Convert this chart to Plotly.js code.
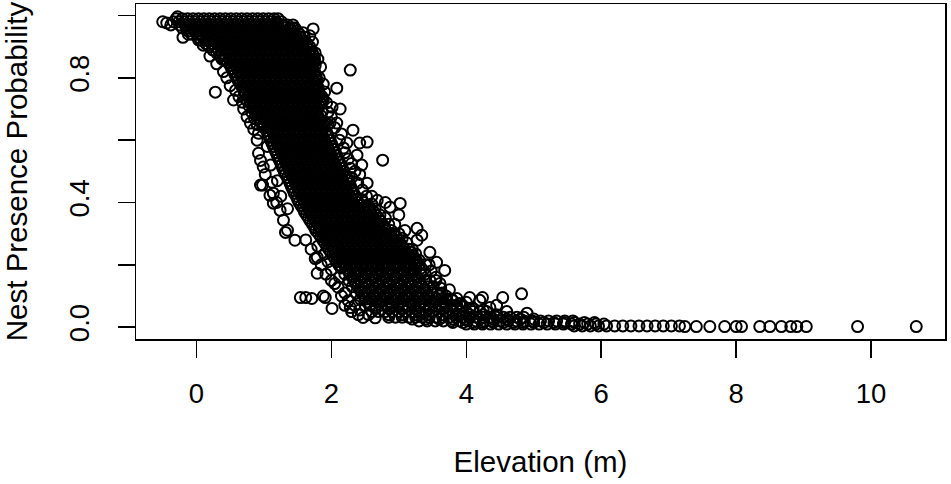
<!DOCTYPE html>
<html>
<head>
<meta charset="utf-8">
<script src="https://cdn.plot.ly/plotly-3.0.1.min.js"></script>
<style>
  html, body { margin: 0; padding: 0; background: #fff; }
  #chart { width: 951px; height: 484px; }
</style>
</head>
<body>
<div id="chart"></div>
<script>
// Nest presence probability vs elevation.
// The dense cloud is kept as rows: one probability per row, the elevations on that row.
const rowProb = [
  0.990, 0.970, 0.950, 0.930, 0.910, 0.890, 0.870, 0.850, 0.830, 0.810,
  0.790, 0.770, 0.750, 0.730, 0.710, 0.690, 0.670, 0.650, 0.630, 0.610,
  0.590, 0.570, 0.550, 0.530, 0.510, 0.490, 0.470, 0.450, 0.430, 0.410,
  0.390, 0.370, 0.350, 0.330, 0.310, 0.290, 0.270, 0.250, 0.230, 0.210,
  0.190, 0.170, 0.150, 0.130, 0.110, 0.090, 0.070, 0.050, 0.032, 0.020,
  0.010, 0.004
];

const rowElev = [
  [-0.30,-0.21,-0.13,-0.05,0.03,0.11,0.19,0.27,0.35,0.43,0.51,0.59,0.67,0.75,0.83,0.91,0.99,1.07,1.15,1.21],
  [-0.38,-0.25,-0.17,-0.09,-0.01,0.07,0.15,0.23,0.31,0.39,0.47,0.55,0.63,0.71,0.79,0.87,0.95,1.03,1.11,1.19,1.27,1.35,1.43],
  [-0.12,-0.03,0.05,0.13,0.21,0.29,0.37,0.45,0.53,0.61,0.69,0.77,0.85,0.93,1.01,1.09,1.17,1.25,1.33,1.41,1.49],
  [-0.20,0.03,0.10,0.18,0.26,0.34,0.42,0.50,0.58,0.66,0.74,0.82,0.90,0.98,1.06,1.14,1.22,1.30,1.38,1.46,1.54,1.60],
  [0.14,0.22,0.30,0.38,0.46,0.54,0.62,0.70,0.78,0.86,0.94,1.02,1.10,1.18,1.26,1.34,1.42,1.50,1.58,1.64],
  [0.24,0.32,0.40,0.48,0.56,0.64,0.72,0.80,0.88,0.96,1.04,1.12,1.20,1.28,1.36,1.44,1.52,1.60,1.68],
  [0.35,0.42,0.50,0.58,0.66,0.74,0.82,0.90,0.98,1.06,1.14,1.22,1.30,1.38,1.46,1.54,1.62,1.70,1.74],
  [0.46,0.54,0.62,0.70,0.78,0.86,0.94,1.02,1.10,1.18,1.26,1.34,1.42,1.50,1.58,1.66,1.75],
  [0.52,0.60,0.68,0.76,0.84,0.92,1.00,1.08,1.16,1.24,1.32,1.40,1.48,1.56,1.64,1.72],
  [0.57,0.65,0.73,0.81,0.89,0.97,1.05,1.13,1.21,1.29,1.37,1.45,1.53,1.61,1.69,1.77],
  [0.62,0.70,0.78,0.86,0.94,1.02,1.10,1.18,1.26,1.34,1.42,1.50,1.58,1.66,1.74,1.79],
  [0.68,0.76,0.84,0.92,1.00,1.08,1.16,1.24,1.32,1.40,1.48,1.56,1.64,1.72,1.80],
  [0.72,0.80,0.88,0.96,1.04,1.12,1.20,1.28,1.36,1.44,1.52,1.60,1.68,1.76,1.82],
  [0.74,0.83,0.91,0.99,1.07,1.15,1.23,1.31,1.39,1.47,1.55,1.63,1.71,1.79,1.86],
  [0.78,0.86,0.94,1.02,1.10,1.18,1.26,1.34,1.42,1.50,1.58,1.66,1.74,1.82],
  [0.82,0.90,0.98,1.06,1.14,1.22,1.30,1.38,1.46,1.54,1.62,1.70,1.78,1.86],
  [0.86,0.94,1.02,1.10,1.18,1.26,1.34,1.42,1.50,1.58,1.66,1.74,1.82],
  [0.90,1.00,1.08,1.16,1.24,1.32,1.40,1.48,1.56,1.64,1.72,1.80,1.88,1.95],
  [1.04,1.12,1.20,1.28,1.36,1.44,1.52,1.60,1.68,1.76,1.84,1.92],
  [1.08,1.16,1.24,1.32,1.40,1.48,1.56,1.64,1.72,1.80,1.88,1.96],
  [1.12,1.20,1.28,1.36,1.44,1.52,1.60,1.68,1.76,1.84,1.92,2.00],
  [1.16,1.24,1.32,1.40,1.48,1.56,1.64,1.72,1.80,1.88,1.96,2.04],
  [1.20,1.28,1.36,1.44,1.52,1.60,1.68,1.76,1.84,1.92,2.00,2.08],
  [1.24,1.32,1.40,1.48,1.56,1.64,1.72,1.80,1.88,1.96,2.04,2.12],
  [1.28,1.36,1.44,1.52,1.60,1.68,1.76,1.84,1.92,2.00,2.08,2.16],
  [1.32,1.40,1.48,1.56,1.64,1.72,1.80,1.88,1.96,2.04,2.12,2.20],
  [1.37,1.45,1.53,1.61,1.69,1.77,1.85,1.93,2.01,2.09,2.17,2.25],
  [1.41,1.49,1.57,1.65,1.73,1.81,1.89,1.97,2.05,2.13,2.21,2.29],
  [1.45,1.53,1.61,1.69,1.77,1.85,1.93,2.01,2.09,2.17,2.25,2.33],
  [1.50,1.58,1.66,1.74,1.82,1.90,1.98,2.06,2.14,2.22,2.30,2.38,2.45],
  [1.55,1.63,1.71,1.79,1.87,1.95,2.03,2.11,2.19,2.27,2.35,2.43,2.51],
  [1.60,1.68,1.76,1.84,1.92,2.00,2.08,2.16,2.24,2.32,2.40,2.48,2.56,2.63],
  [1.66,1.74,1.82,1.90,1.98,2.06,2.14,2.22,2.30,2.38,2.46,2.54,2.62,2.70],
  [1.72,1.80,1.88,1.96,2.04,2.12,2.20,2.28,2.36,2.44,2.52,2.60,2.68,2.76],
  [1.77,1.85,1.93,2.01,2.09,2.17,2.25,2.33,2.41,2.49,2.57,2.65,2.73,2.81,2.89],
  [1.84,1.92,2.00,2.08,2.16,2.24,2.32,2.40,2.48,2.56,2.64,2.72,2.80,2.88,2.96],
  [1.90,1.98,2.06,2.14,2.22,2.30,2.38,2.46,2.54,2.62,2.70,2.78,2.86,2.94,3.02],
  [1.96,2.04,2.12,2.20,2.28,2.36,2.44,2.52,2.60,2.68,2.76,2.84,2.92,3.00,3.08,3.15],
  [2.02,2.10,2.18,2.26,2.34,2.42,2.50,2.58,2.66,2.74,2.82,2.90,2.98,3.06,3.14,3.21],
  [2.08,2.16,2.24,2.32,2.40,2.48,2.56,2.64,2.72,2.80,2.88,2.96,3.04,3.12,3.20,3.27],
  [2.14,2.22,2.30,2.38,2.46,2.54,2.62,2.70,2.78,2.86,2.94,3.02,3.10,3.18,3.26,3.33],
  [2.20,2.28,2.36,2.44,2.52,2.60,2.68,2.76,2.84,2.92,3.00,3.08,3.16,3.24,3.32,3.39],
  [2.26,2.34,2.42,2.50,2.58,2.66,2.74,2.82,2.90,2.98,3.06,3.14,3.22,3.30,3.38,3.46],
  [2.31,2.39,2.47,2.55,2.63,2.71,2.79,2.87,2.95,3.03,3.11,3.19,3.27,3.35,3.43,3.51],
  [2.37,2.45,2.53,2.61,2.69,2.77,2.85,2.93,3.01,3.09,3.17,3.25,3.33,3.41,3.49,3.57,3.64],
  [2.43,2.51,2.59,2.67,2.75,2.83,2.91,2.99,3.07,3.15,3.23,3.31,3.39,3.47,3.55,3.63,3.71,3.78],
  [2.50,2.58,2.66,2.74,2.82,2.90,2.98,3.06,3.14,3.22,3.30,3.38,3.46,3.54,3.62,3.70,3.78,3.86,3.94],
  [2.60,2.70,2.80,2.90,3.00,3.10,3.20,3.30,3.40,3.50,3.60,3.70,3.80,3.90,4.00,4.10,4.20,4.30],
  [2.85,2.95,3.05,3.15,3.25,3.35,3.45,3.55,3.65,3.75,3.85,3.95,4.05,4.15,4.25,4.35,4.45,4.55,4.65,4.75,4.85],
  [3.30,3.42,3.54,3.66,3.78,3.90,4.02,4.14,4.26,4.38,4.50,4.62,4.74,4.86,4.98,5.10,5.22,5.34,5.46,5.58],
  [4.00,4.12,4.24,4.36,4.48,4.60,4.72,4.84,4.96,5.08,5.20,5.32,5.44,5.56,5.68,5.80,5.92,6.04],
  [5.60,5.72,5.84,5.96,6.08,6.20,6.32,6.44,6.56,6.68,6.80,6.92,7.04,7.16]
];

// rows lying between the ones above, where the cloud is packed tighter
const midProb = [
  0.980, 0.960, 0.940, 0.920, 0.900, 0.880, 0.860, 0.840, 0.820, 0.800,
  0.780, 0.760, 0.740, 0.720, 0.700, 0.680, 0.660, 0.640, 0.620, 0.600,
  0.580, 0.560, 0.540, 0.520, 0.500, 0.480, 0.460, 0.440, 0.420, 0.400,
  0.380, 0.360, 0.340, 0.320, 0.300, 0.280, 0.260, 0.240, 0.220, 0.200,
  0.180, 0.160, 0.140, 0.120, 0.100, 0.080, 0.060, 0.040, 0.026, 0.015
];

const midElev = [
  [-0.34,-0.26,-0.18,-0.10,-0.02,0.06,0.14,0.22,0.30,0.38,0.46,0.54,0.62,0.70,0.78,0.86,0.94,1.02,1.10,1.18,1.26],
  [-0.21,-0.13,-0.05,0.03,0.11,0.19,0.27,0.35,0.43,0.51,0.59,0.67,0.75,0.83,0.91,0.99,1.07,1.15,1.23,1.31,1.39,1.46],
  [-0.07,0.01,0.09,0.17,0.25,0.33,0.41,0.49,0.57,0.65,0.73,0.81,0.89,0.97,1.05,1.13,1.21,1.29,1.37,1.45,1.53],
  [0.07,0.15,0.23,0.31,0.39,0.47,0.55,0.63,0.71,0.79,0.87,0.95,1.03,1.11,1.19,1.27,1.35,1.43,1.51,1.59],
  [0.19,0.27,0.35,0.43,0.51,0.59,0.67,0.75,0.83,0.91,0.99,1.07,1.15,1.23,1.31,1.39,1.47,1.55,1.63,1.68],
  [0.30,0.38,0.46,0.54,0.62,0.70,0.78,0.86,0.94,1.02,1.10,1.18,1.26,1.34,1.42,1.50,1.58,1.66,1.72],
  [0.41,0.49,0.57,0.65,0.73,0.81,0.89,0.97,1.05,1.13,1.21,1.29,1.37,1.45,1.53,1.61,1.69,1.75],
  [0.50,0.58,0.66,0.74,0.82,0.90,0.98,1.06,1.14,1.22,1.30,1.38,1.46,1.54,1.62,1.70,1.76],
  [0.55,0.63,0.71,0.79,0.87,0.95,1.03,1.11,1.19,1.27,1.35,1.43,1.51,1.59,1.67,1.75],
  [0.60,0.68,0.76,0.84,0.92,1.00,1.08,1.16,1.24,1.32,1.40,1.48,1.56,1.64,1.72,1.78],
  [0.65,0.73,0.81,0.89,0.97,1.05,1.13,1.21,1.29,1.37,1.45,1.53,1.61,1.69,1.77],
  [0.70,0.78,0.86,0.94,1.02,1.10,1.18,1.26,1.34,1.42,1.50,1.58,1.66,1.74,1.81],
  [0.76,0.84,0.92,1.00,1.08,1.16,1.24,1.32,1.40,1.48,1.56,1.64,1.72,1.80],
  [0.80,0.88,0.96,1.04,1.12,1.20,1.28,1.36,1.44,1.52,1.60,1.68,1.76,1.84],
  [0.84,0.92,1.00,1.08,1.16,1.24,1.32,1.40,1.48,1.56,1.64,1.72,1.80],
  [0.88,0.96,1.04,1.12,1.20,1.28,1.36,1.44,1.52,1.60,1.68,1.76,1.84],
  [0.94,1.04,1.12,1.20,1.28,1.36,1.44,1.52,1.60,1.68,1.76,1.84,1.90],
  [1.00,1.08,1.16,1.24,1.32,1.40,1.48,1.56,1.64,1.72,1.80,1.88],
  [1.06,1.14,1.22,1.30,1.38,1.46,1.54,1.62,1.70,1.78,1.86,1.94],
  [1.10,1.18,1.26,1.34,1.42,1.50,1.58,1.66,1.74,1.82,1.90,1.98],
  [1.14,1.22,1.30,1.38,1.46,1.54,1.62,1.70,1.78,1.86,1.94,2.02],
  [1.18,1.26,1.34,1.42,1.50,1.58,1.66,1.74,1.82,1.90,1.98,2.06],
  [1.22,1.30,1.38,1.46,1.54,1.62,1.70,1.78,1.86,1.94,2.02,2.10],
  [1.26,1.34,1.42,1.50,1.58,1.66,1.74,1.82,1.90,1.98,2.06,2.14],
  [1.30,1.38,1.46,1.54,1.62,1.70,1.78,1.86,1.94,2.02,2.10,2.18],
  [1.35,1.43,1.51,1.59,1.67,1.75,1.83,1.91,1.99,2.07,2.15,2.23],
  [1.39,1.47,1.55,1.63,1.71,1.79,1.87,1.95,2.03,2.11,2.19,2.27],
  [1.43,1.51,1.59,1.67,1.75,1.83,1.91,1.99,2.07,2.15,2.23,2.31],
  [1.48,1.56,1.64,1.72,1.80,1.88,1.96,2.04,2.12,2.20,2.28,2.36],
  [1.52,1.60,1.68,1.76,1.84,1.92,2.00,2.08,2.16,2.24,2.32,2.40,2.48],
  [1.58,1.66,1.74,1.82,1.90,1.98,2.06,2.14,2.22,2.30,2.38,2.46,2.54],
  [1.63,1.71,1.79,1.87,1.95,2.03,2.11,2.19,2.27,2.35,2.43,2.51,2.59,2.66],
  [1.69,1.77,1.85,1.93,2.01,2.09,2.17,2.25,2.33,2.41,2.49,2.57,2.65,2.73],
  [1.75,1.83,1.91,1.99,2.07,2.15,2.23,2.31,2.39,2.47,2.55,2.63,2.71,2.79],
  [1.81,1.89,1.97,2.05,2.13,2.21,2.29,2.37,2.45,2.53,2.61,2.69,2.77,2.85,2.93],
  [1.87,1.95,2.03,2.11,2.19,2.27,2.35,2.43,2.51,2.59,2.67,2.75,2.83,2.91,2.99],
  [1.93,2.01,2.09,2.17,2.25,2.33,2.41,2.49,2.57,2.65,2.73,2.81,2.89,2.97,3.05],
  [1.99,2.07,2.15,2.23,2.31,2.39,2.47,2.55,2.63,2.71,2.79,2.87,2.95,3.03,3.11,3.18],
  [2.05,2.13,2.21,2.29,2.37,2.45,2.53,2.61,2.69,2.77,2.85,2.93,3.01,3.09,3.17,3.24],
  [2.11,2.19,2.27,2.35,2.43,2.51,2.59,2.67,2.75,2.83,2.91,2.99,3.07,3.15,3.23,3.30],
  [2.25,2.41,2.57,2.73,2.89,3.05,3.21],
  [2.31,2.47,2.63,2.79,2.95,3.11,3.27],
  [2.36,2.52,2.68,2.84,3.00,3.16,3.32],
  [2.42,2.58,2.74,2.90,3.06,3.22,3.38],
  [2.48,2.64,2.80,2.96,3.12,3.28,3.44,3.60],
  [2.55,2.71,2.87,3.03,3.19,3.35,3.51,3.67],
  [2.65,2.85,3.05,3.25,3.45,3.65,3.85,4.05],
  [2.85,3.05,3.25,3.45,3.65,3.85,4.05,4.25,4.45],
  [3.20,3.40,3.60,3.80,4.00,4.20,4.40,4.60,4.80,5.00],
  [3.80,3.95,4.10,4.25,4.40,4.55,4.70,4.85,5.00,5.15,5.30,5.45,5.60,5.75,5.90]
];

// scattered points on the edges of the cloud
const strayElev = [
  -0.50,-0.44,-0.28,-0.12,0.03,0.28,0.55,0.68,0.62,1.20,1.43,1.73,2.28,2.08,1.88,2.01,1.95,2.13,1.98,2.05,
  2.32,2.53,2.42,2.23,2.76,2.38,2.45,2.28,2.39,2.53,2.68,3.02,2.87,2.57,3.27,2.72,2.94,3.09,2.15,2.20,2.30,2.60,2.80,3.00,
  0.92,0.90,0.92,0.95,0.99,1.02,0.98,0.95,1.12,1.09,1.14,1.14,1.19,1.24,1.29,1.35,1.32,1.46,1.05,1.10,1.20,1.25,1.35,
  1.54,1.71,1.91,2.01,1.79,1.79,1.76,2.10,2.28,2.47,1.85,2.00,2.15,2.30,2.40,
  3.27,3.34,3.46,3.56,3.68,3.36,3.61,3.86,4.00,4.24,4.54,4.82,4.35,4.20,4.05,3.90,3.75,3.55,3.45,4.45,4.60,4.90,
  7.24,7.41,7.61,7.83,8.00,8.08,8.35,8.50,8.67,8.81,8.90,9.04,9.80,10.67
];
const strayProb = [
  0.980,0.976,0.996,0.940,0.922,0.754,0.729,0.722,0.793,0.976,0.960,0.957,0.825,0.767,0.729,0.706,0.690,0.700,0.655,0.640,
  0.632,0.594,0.591,0.591,0.536,0.552,0.520,0.510,0.462,0.462,0.407,0.397,0.385,0.375,0.317,0.360,0.330,0.310,0.620,0.560,0.480,0.420,0.400,0.360,
  0.622,0.600,0.558,0.535,0.514,0.490,0.456,0.456,0.465,0.423,0.430,0.398,0.400,0.375,0.343,0.311,0.304,0.279,0.580,0.520,0.470,0.420,0.380,
  0.095,0.092,0.095,0.060,0.173,0.224,0.220,0.128,0.063,0.031,0.200,0.150,0.100,0.050,0.040,
  0.279,0.295,0.240,0.208,0.182,0.182,0.140,0.092,0.080,0.095,0.095,0.107,0.063,0.086,0.095,0.076,0.120,0.160,0.200,0.070,0.050,0.045,
  0.002,0.002,0.002,0.002,0.002,0.002,0.002,0.002,0.002,0.002,0.002,0.002,0.002,0.002
];

// more loose circles that roughen the borders of the packed cloud
const edgeElev = [
  1.58,1.68,1.76,1.72,1.80,1.84,1.82,1.88,1.90,1.86,1.93,
  0.20,0.30,0.38,0.40,0.45,0.50,0.58,0.63,0.70,0.75,0.80,0.85,0.10,-0.02,
  2.00,2.08,2.12,2.18,2.25,2.30,2.35,2.42,2.46,2.52,2.60,2.65,2.80,2.85,3.00,3.05,3.12,3.20,3.25,3.30,3.40,3.48,3.55,3.62,3.70,3.80,3.95,4.10,4.25,
  1.62,1.70,1.80,1.90,1.95,1.92,2.00,2.05,2.12,2.20,2.25,2.35,2.20,2.42,2.55,2.65,1.62,1.88
];
const edgeProb = [
  0.945,0.935,0.880,0.915,0.860,0.835,0.800,0.780,0.755,0.740,0.720,
  0.870,0.845,0.860,0.820,0.800,0.775,0.760,0.740,0.700,0.675,0.655,0.635,0.905,0.950,
  0.675,0.655,0.600,0.575,0.540,0.525,0.500,0.490,0.440,0.420,0.395,0.380,0.350,0.330,0.300,0.285,0.270,0.250,0.235,0.215,0.200,0.180,0.150,0.125,0.100,0.085,0.065,0.060,0.055,
  0.280,0.250,0.260,0.235,0.210,0.170,0.185,0.140,0.160,0.110,0.085,0.070,0.070,0.055,0.040,0.030,0.095,0.100
];

const xTicks = [0, 2, 4, 6, 8, 10];
const yTicks = [0, 0.2, 0.4, 0.6, 0.8, 1.0];
const yTickText = ['0.0', '', '0.4', '', '0.8', ''];

// flatten the rows into one point list
const elev = [], prob = [];
rowElev.forEach((xs, i) => xs.forEach(x => { elev.push(x); prob.push(rowProb[i]); }));
midElev.forEach((xs, i) => xs.forEach(x => { elev.push(x); prob.push(midProb[i]); }));
strayElev.forEach((x, i) => { elev.push(x); prob.push(strayProb[i]); });
edgeElev.forEach((x, i) => { elev.push(x); prob.push(edgeProb[i]); });

const FONT = 'Liberation Sans, Arial, Helvetica, sans-serif';

const trace = {
  type: 'scatter',
  mode: 'markers',
  x: elev,
  y: prob,
  marker: { symbol: 'circle-open', size: 11, color: '#000', line: { width: 2, color: '#000' } },
  hoverinfo: 'skip',
};

const axisBase = {
  showgrid: false,
  zeroline: false,
  showline: true,
  mirror: true,
  linecolor: '#000',
  linewidth: 1.5,
  ticks: 'outside',
  ticklen: 17,
  tickwidth: 1.5,
  tickcolor: '#000',
  tickfont: { family: FONT, size: 27.5, color: '#000' },
  fixedrange: true,
};

const layout = {
  width: 951,
  height: 484,
  paper_bgcolor: '#fff',
  plot_bgcolor: '#fff',
  showlegend: false,
  margin: { l: 136, r: 6, t: 4, b: 145 },
  font: { family: FONT, color: '#000' },
  xaxis: {
    ...axisBase,
    range: [-0.896, 11.096],
    tickmode: 'array',
    tickvals: xTicks,
    ticktext: xTicks.map(String),
    ticklabelstandoff: 12,
    title: { text: 'Elevation (m)', font: { family: FONT, size: 29.5, color: '#000' }, standoff: 44 },
  },
  yaxis: {
    ...axisBase,
    range: [-0.038, 1.037],
    tickmode: 'array',
    tickvals: yTicks,
    ticktext: yTickText,
    tickangle: -90,
    ticklabelstandoff: 18,
    title: { text: 'Nest Presence Probability', font: { family: FONT, size: 29.5, color: '#000' }, standoff: 33 },
  },
};

Plotly.newPlot('chart', [trace], layout, { displayModeBar: false, staticPlot: true });
</script>
</body>
</html>
